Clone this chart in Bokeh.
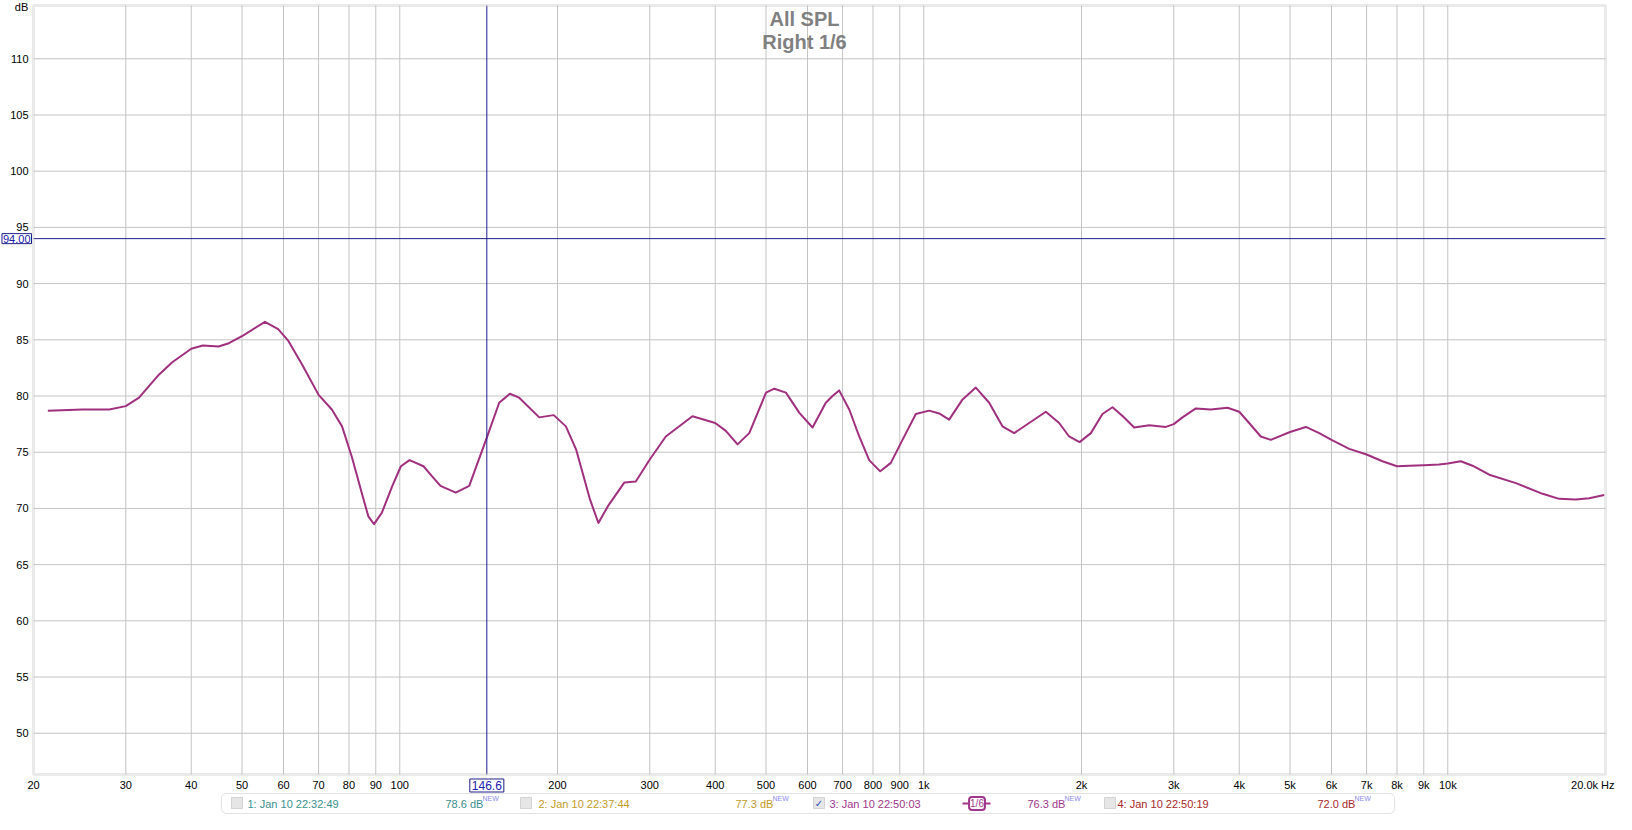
from bokeh.plotting import figure
from bokeh.models import Range1d, Label, BoxAnnotation
from bokeh.core.properties import value
from bokeh.embed import file_html
from bokeh.resources import INLINE

# ---------------- data ----------------
freq_hz = [21.3, 24.8, 27.9, 30.0, 31.8, 34.7, 36.8, 40.0, 42.1, 45.1, 47.2, 50.3,
           55.3, 58.6, 61.3, 65.1, 70.0, 74.2, 77.6, 81.0, 84.6, 87.1, 89.3, 92.4,
           96.8, 100.5, 104.4, 111.0, 115.5, 119.6, 127.9, 135.7, 146.6, 154.8,
           162.2, 169.0, 184.6, 196.7, 207.5, 217.2, 230.7, 239.4, 249.6, 268.2,
           282.1, 300.0, 321.9, 361.9, 400.0, 419.1, 441.2, 464.5, 500.0, 518.5,
           545.7, 578.9, 613.4, 650.2, 669.7, 689.5, 720.7, 753.1, 786.8, 825.8,
           865.3, 910.8, 965.8, 1024, 1070, 1118, 1186, 1257, 1333, 1413, 1488,
           1589, 1710, 1813, 1894, 1983, 2084, 2193, 2292, 2398, 2521, 2693, 2897,
           3000, 3117, 3305, 3530, 3799, 4000, 4178, 4397, 4595, 5000, 5361, 5685,
           6000, 6486, 7000, 7505, 8000, 8443, 9000, 9625, 10000, 10590, 11150,
           12000, 13490, 15170, 16320, 17550, 18620, 19890]
spl_db = [78.7, 78.8, 78.8, 79.1, 79.85, 81.9, 83.0, 84.2, 84.5, 84.4, 84.7, 85.4,
          86.6, 85.95, 84.9, 82.8, 80.1, 78.8, 77.3, 74.6, 71.4, 69.3, 68.6, 69.6,
          72.0, 73.75, 74.3, 73.75, 72.8, 72.0, 71.4, 72.0, 76.3, 79.4,
          80.2, 79.85, 78.1, 78.3, 77.3, 75.2, 70.8, 68.7, 70.2, 72.3,
          72.4, 74.35, 76.4, 78.2, 77.6, 76.9, 75.7, 76.7, 80.3, 80.65,
          80.3, 78.5, 77.2, 79.4, 80.0, 80.5, 78.8, 76.4, 74.3, 73.3,
          74.05, 76.1, 78.4, 78.7, 78.45, 77.9, 79.7, 80.75, 79.4, 77.3, 76.7,
          77.6, 78.6, 77.6, 76.4, 75.9, 76.7, 78.4, 79.0, 78.2, 77.2, 77.4, 77.25,
          77.5, 78.1, 78.9, 78.8, 78.95, 78.6, 77.6, 76.4, 76.1, 76.8, 77.25, 76.7,
          76.1, 75.3, 74.8, 74.2, 73.75, 73.8, 73.85, 73.9, 74.0, 74.2, 73.8,
          73.0, 72.25, 71.3, 70.85, 70.8, 70.9, 71.2]

x_ticks = [20, 30, 40, 50, 60, 70, 80, 90, 100, 200, 300, 400, 500, 600, 700, 800,
           900, 1000, 2000, 3000, 4000, 5000, 6000, 7000, 8000, 9000, 10000]
x_tick_labels = ["20", "30", "40", "50", "60", "70", "80", "90", "100", "200", "300",
                 "400", "500", "600", "700", "800", "900", "1k", "2k", "3k", "4k",
                 "5k", "6k", "7k", "8k", "9k", "10k"]
x_end_label = "20.0k Hz"
y_ticks = [50, 55, 60, 65, 70, 75, 80, 85, 90, 95, 100, 105, 110]
y_tick_labels = [str(v) for v in y_ticks]
y_unit = "dB"
title_lines = ["All SPL", "Right 1/6"]
cursor_freq = 146.6
cursor_level = 94.00
legend_names = ["1: Jan 10 22:32:49", "2: Jan 10 22:37:44",
                "3: Jan 10 22:50:03", "4: Jan 10 22:50:19"]
legend_levels = ["78.6 dB", "77.3 dB", "76.3 dB", "72.0 dB"]
legend_checked = [False, False, True, False]
legend_colors = ["#3a8f8f", "#c49b28", "#a0368c", "#a82828"]
smoothing_label = "1/6"

# ---------------- geometry (pixels of the canvas) ----------------
W, H = 1616, 814
FL, FT, FW, FH = 33, 5, 1572, 769          # plot area inside the canvas
X0, X1 = 20.0, 20000.0                     # plot area data limits
Y0, Y1 = 46.33, 114.74
FONT = "Liberation Sans"
NAVY = "#1e1e8c"
CURVE = "#a0307e"
GRID = "#c4c4c4"


def xd(px):
    return X0 * (X1 / X0) ** ((px - FL) / FW)


def yd(py):
    return Y1 - (py - FT) / FH * (Y1 - Y0)


# the frame covers the whole canvas so that nothing outside the plot area is clipped
p = figure(width=W, height=H, x_axis_type="log",
           x_range=Range1d(xd(0), xd(W)), y_range=Range1d(yd(H), yd(0)),
           x_axis_location=None, y_axis_location=None,
           output_backend="svg", toolbar_location=None,
           min_border_left=0, min_border_right=0, min_border_top=0, min_border_bottom=0)
p.title_location = None
p.grid.visible = False
p.outline_line_color = None
p.background_fill_color = "white"
p.border_fill_color = "white"

# grid lines inside the plot area
p.segment(x0=x_ticks[1:], x1=x_ticks[1:], y0=[Y0] * (len(x_ticks) - 1),
          y1=[Y1] * (len(x_ticks) - 1), line_color=GRID, line_width=1)
p.segment(x0=[X0] * len(y_ticks), x1=[X1] * len(y_ticks), y0=y_ticks, y1=y_ticks,
          line_color=GRID, line_width=1)

# plot-area frame
p.add_layout(BoxAnnotation(left=X0, right=X1, bottom=Y0, top=Y1, fill_alpha=0,
                           line_color="#b8b8b8", line_width=3))

# tick labels
p.text(x=x_ticks, y=[yd(784)] * len(x_ticks), text=x_tick_labels,
       text_align="center", text_baseline="middle", text_font=value(FONT),
       text_font_size="11px", text_color="#000000")
p.text(x=[xd(28)] * len(y_ticks), y=y_ticks, text=y_tick_labels,
       text_align="right", text_baseline="middle", text_font=value(FONT),
       text_font_size="11px", text_color="#000000")

# curve
p.line(freq_hz, spl_db, line_width=2, line_color=CURVE, line_join="round")

# cursors
p.line([cursor_freq, cursor_freq], [Y0, Y1], line_color=NAVY, line_width=1)
p.line([X0, X1], [cursor_level, cursor_level], line_color=NAVY, line_width=1)

# title
for txt, py in zip(title_lines, [18, 41]):
    p.add_layout(Label(x=xd(804), y=yd(py), text=txt, text_align="center",
                       text_baseline="middle", text_font=FONT, text_font_size="20px",
                       text_font_style="bold", text_color="#808080"))

# unit labels
p.add_layout(Label(x=xd(21), y=yd(0), text=y_unit, text_align="center",
                   text_baseline="top", text_font=FONT, text_font_size="11px",
                   text_color="#000000"))
p.add_layout(Label(x=xd(1614), y=yd(784), text=x_end_label, text_align="right",
                   text_baseline="middle", text_font=FONT, text_font_size="11px",
                   text_color="#000000"))

# cursor value boxes
p.add_layout(Label(x=xd(31), y=cursor_level, text="%.2f" % cursor_level,
                   text_align="right", text_baseline="middle", text_font=FONT,
                   text_font_size="11px", text_color="#2020b0",
                   border_line_color=NAVY, border_line_width=1,
                   background_fill_color="white", padding=1))
p.add_layout(Label(x=cursor_freq, y=yd(785), text="%.1f" % cursor_freq,
                   text_align="center", text_baseline="middle", text_font=FONT,
                   text_font_size="12px", text_color="#2020b0",
                   border_line_color=NAVY, border_line_width=1,
                   background_fill_color="white", padding=2))

# legend bar
LY = 803
p.add_layout(BoxAnnotation(left=xd(221), right=xd(1394), top=yd(793), bottom=yd(813),
                           fill_color="white", fill_alpha=1.0, line_color="#a0a0a0",
                           line_width=1, border_radius=5))
cb_x = [231, 520, 813, 1104]
name_x = [247, 538, 829, 1117]
level_x = [445, 735, 1027, 1317]
for i in range(4):
    p.add_layout(BoxAnnotation(left=xd(cb_x[i]), right=xd(cb_x[i] + 11),
                               top=yd(LY - 6), bottom=yd(LY + 5),
                               fill_color="#e6e6e6", fill_alpha=1.0,
                               line_color="#8c8c8c", line_width=1))
    if legend_checked[i]:
        p.add_layout(Label(x=xd(cb_x[i] + 5.5), y=yd(LY), text="\u2713",
                           text_align="center", text_baseline="middle",
                           text_font="DejaVu Sans", text_font_size="10px",
                           text_font_style="bold", text_color="#2a4fb8"))
    p.add_layout(Label(x=xd(name_x[i]), y=yd(LY), text=legend_names[i],
                       text_align="left", text_baseline="middle", text_font=FONT,
                       text_font_size="11px", text_color=legend_colors[i]))
    p.add_layout(Label(x=xd(level_x[i]), y=yd(LY), text=legend_levels[i],
                       text_align="left", text_baseline="middle", text_font=FONT,
                       text_font_size="11px", text_color=legend_colors[i]))
    p.add_layout(Label(x=xd(level_x[i] + 37), y=yd(LY - 5), text="NEW",
                       text_align="left", text_baseline="middle", text_font=FONT,
                       text_font_size="7px", text_color="#8c8cf0"))

# smoothing symbol for the visible trace
p.add_layout(BoxAnnotation(left=xd(962), right=xd(990), top=yd(LY - 1), bottom=yd(LY + 1),
                           fill_color=legend_colors[2], fill_alpha=1.0, line_color=None))
p.add_layout(Label(x=xd(976.5), y=yd(LY), text=smoothing_label, text_align="center",
                   text_baseline="middle", text_font=FONT, text_font_size="10px",
                   text_color=legend_colors[2], border_line_color=legend_colors[2],
                   border_line_width=2, background_fill_color="white",
                   padding=1, border_radius=3))

open("out.html", "w").write(file_html(p, INLINE))
